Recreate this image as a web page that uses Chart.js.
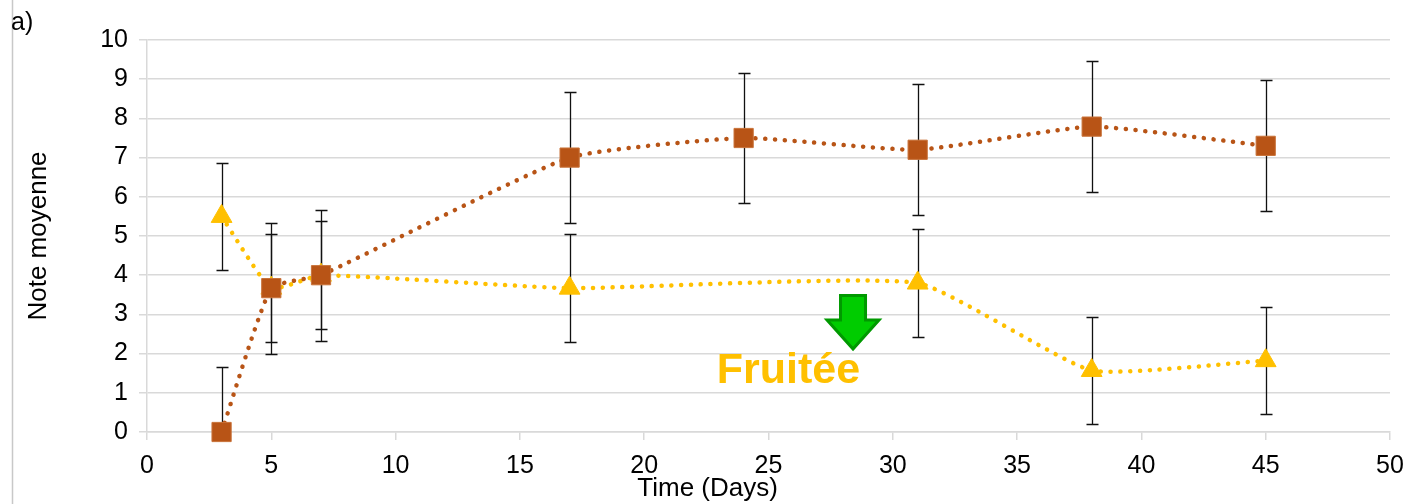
<!DOCTYPE html>
<html>
<head>
<meta charset="utf-8">
<script src="https://cdn.jsdelivr.net/npm/chart.js@4"></script>
<style>
  html, body { margin: 0; padding: 0; background: #fff; }
  #wrap { width: 1408px; height: 504px; }
</style>
</head>
<body>
<div id="wrap"><canvas id="noteChart" width="1408" height="504"></canvas></div>
<script>
// valeurs
var daysBrown = [3, 5, 7, 17, 24, 31, 38, 45];
var noteBrown = [0, 3.67, 4.0, 7.0, 7.5, 7.2, 7.79, 7.3];
var errBrown = [1.67, 1.67, 1.67, 1.67, 1.67, 1.67, 1.67, 1.67];

var daysYellow = [3, 5, 7, 17, 31, 38, 45];
var noteYellow = [5.5, 3.67, 4.0, 3.67, 3.8, 1.57, 1.82];
var errYellow = [1.37, 1.37, 1.37, 1.37, 1.37, 1.37, 1.37];

var xTicks = [0, 5, 10, 15, 20, 25, 30, 35, 40, 45, 50];
var yTicks = [0, 1, 2, 3, 4, 5, 6, 7, 8, 9, 10];

var xTitle = 'Time (Days)';
var yTitle = 'Note moyenne';

// annotation "Fruitée" + flèche (en unités du graphique)
var noteLabel = 'Fruitée';
var noteLabelPos = [25.8, 1.24];
var arrowPos = [28.4, 3.48, 2.86, 2.12]; // x, haut, début de la pointe, pointe

function toPoints(xs, ys) {
    var pts = [];
    for (var i = 0; i < xs.length; i++) {
        pts.push({x: xs[i], y: ys[i]});
    }
    return pts;
}

var gridGrey = '#d9d9d9';
var fontFam = '"Liberation Sans", Arial, sans-serif';

// barres d'erreur, dessinées sous les marqueurs
var errorBarsPlugin = {
    id: 'errorBars',
    beforeDatasetsDraw: function(chart) {
        var ctx = chart.ctx;
        var area = chart.chartArea;
        var xs = chart.scales.x;
        var ys = chart.scales.y;
        ctx.save();
        ctx.beginPath();
        ctx.rect(area.left, area.top - 1, area.right - area.left, area.bottom - area.top + 2);
        ctx.clip();
        ctx.strokeStyle = '#111';
        ctx.lineWidth = 1.3;
        chart.data.datasets.forEach(function(ds) {
            ds.data.forEach(function(p, i) {
                var e = ds.errors[i];
                var px = Math.round(xs.getPixelForValue(p.x)) + 0.5;
                var top = Math.round(ys.getPixelForValue(p.y + e)) + 0.5;
                var bot = Math.round(ys.getPixelForValue(p.y - e)) + 0.5;
                ctx.beginPath();
                ctx.moveTo(px, top);
                ctx.lineTo(px, bot);
                ctx.moveTo(px - 6, top);
                ctx.lineTo(px + 6, top);
                ctx.moveTo(px - 6, bot);
                ctx.lineTo(px + 6, bot);
                ctx.stroke();
            });
        });
        ctx.restore();
    }
};

// flèche verte, texte "Fruitée", titre de l'axe x, "a)" et le bord gauche
var decorPlugin = {
    id: 'decor',
    afterDraw: function(chart) {
        var ctx = chart.ctx;
        var xs = chart.scales.x;
        var ys = chart.scales.y;
        ctx.save();

        ctx.strokeStyle = '#c8c8c8';
        ctx.lineWidth = 1.5;
        ctx.beginPath();
        ctx.moveTo(12.5, 0);
        ctx.lineTo(12.5, 504);
        ctx.stroke();

        ctx.fillStyle = '#000';
        ctx.font = '25px ' + fontFam;
        ctx.textBaseline = 'alphabetic';
        ctx.textAlign = 'left';
        ctx.fillText('a)', 11, 30);

        // titre de l'axe x, un peu à gauche du centre comme dans l'original
        ctx.font = '26px ' + fontFam;
        ctx.textAlign = 'center';
        ctx.textBaseline = 'middle';
        ctx.fillText(xTitle, xs.left + (xs.right - xs.left) * 0.451, xs.bottom - 15);

        var ax = xs.getPixelForValue(arrowPos[0]);
        var aTop = ys.getPixelForValue(arrowPos[1]);
        var aHead = ys.getPixelForValue(arrowPos[2]);
        var aTip = ys.getPixelForValue(arrowPos[3]);
        ctx.beginPath();
        ctx.moveTo(ax - 12.5, aTop);
        ctx.lineTo(ax + 12.5, aTop);
        ctx.lineTo(ax + 12.5, aHead);
        ctx.lineTo(ax + 26, aHead);
        ctx.lineTo(ax, aTip);
        ctx.lineTo(ax - 26, aHead);
        ctx.lineTo(ax - 12.5, aHead);
        ctx.closePath();
        ctx.fillStyle = '#00cc00';
        ctx.fill();
        ctx.strokeStyle = '#009900';
        ctx.lineWidth = 3;
        ctx.lineJoin = 'miter';
        ctx.stroke();

        ctx.fillStyle = '#ffc000';
        ctx.font = 'bold 43px ' + fontFam;
        ctx.textAlign = 'center';
        ctx.textBaseline = 'alphabetic';
        ctx.fillText(noteLabel, xs.getPixelForValue(noteLabelPos[0]), ys.getPixelForValue(noteLabelPos[1]));
        ctx.restore();
    }
};

var ctx = document.getElementById('noteChart').getContext('2d');
var chart = new Chart(ctx, {
    type: 'line',
    data: {
        datasets: [{
            label: 'Série 1',
            data: toPoints(daysBrown, noteBrown),
            errors: errBrown,
            borderColor: '#b85416',
            borderWidth: 4.5,
            borderDash: [0.1, 9.7],
            borderCapStyle: 'round',
            tension: 0.15,
            fill: false,
            pointStyle: 'rect',
            pointRadius: 13.6,
            pointBackgroundColor: '#b85416',
            pointBorderColor: '#c9733a',
            pointBorderWidth: 1,
            clip: false
        }, {
            label: 'Fruitée',
            data: toPoints(daysYellow, noteYellow),
            errors: errYellow,
            borderColor: '#ffc000',
            borderWidth: 4.5,
            borderDash: [0.1, 9.7],
            borderCapStyle: 'round',
            tension: 0.15,
            fill: false,
            pointStyle: 'triangle',
            pointRadius: 12,
            pointBackgroundColor: '#ffc000',
            pointBorderColor: '#ffc000',
            pointBorderWidth: 1,
            clip: false
        }]
    },
    options: {
        responsive: false,
        animation: false,
        events: [],
        layout: {
            padding: {left: 0, right: 18, top: 40, bottom: 0}
        },
        plugins: {
            legend: {display: false},
            tooltip: {enabled: false}
        },
        scales: {
            x: {
                type: 'linear',
                min: 0,
                max: 50,
                afterBuildTicks: function(axis) {
                    axis.ticks = xTicks.map(function(v) { return {value: v}; });
                },
                afterFit: function(axis) {
                    axis.height = 72;
                    axis.paddingRight = 0;
                    axis.paddingLeft = 0;
                },
                grid: {
                    drawOnChartArea: false,
                    drawTicks: true,
                    tickLength: 8,
                    color: gridGrey,
                    lineWidth: 1.5
                },
                border: {display: true, color: gridGrey, width: 1.5},
                ticks: {
                    color: '#000',
                    padding: 11,
                    maxRotation: 0,
                    font: {family: fontFam, size: 25}
                },
                title: {display: false}
            },
            y: {
                min: 0,
                max: 10,
                afterBuildTicks: function(axis) {
                    axis.ticks = yTicks.map(function(v) { return {value: v}; });
                },
                afterFit: function(axis) {
                    axis.width = 147;
                },
                grid: {
                    drawTicks: true,
                    tickLength: 8,
                    color: gridGrey,
                    lineWidth: 1.5
                },
                border: {display: true, color: gridGrey, width: 1.5},
                ticks: {
                    color: '#000',
                    padding: 11,
                    font: {family: fontFam, size: 25}
                },
                title: {
                    display: true,
                    text: yTitle,
                    color: '#000',
                    padding: {top: 23, bottom: 0},
                    font: {family: fontFam, size: 26}
                }
            }
        }
    },
    plugins: [errorBarsPlugin, decorPlugin]
});
</script>
</body>
</html>
